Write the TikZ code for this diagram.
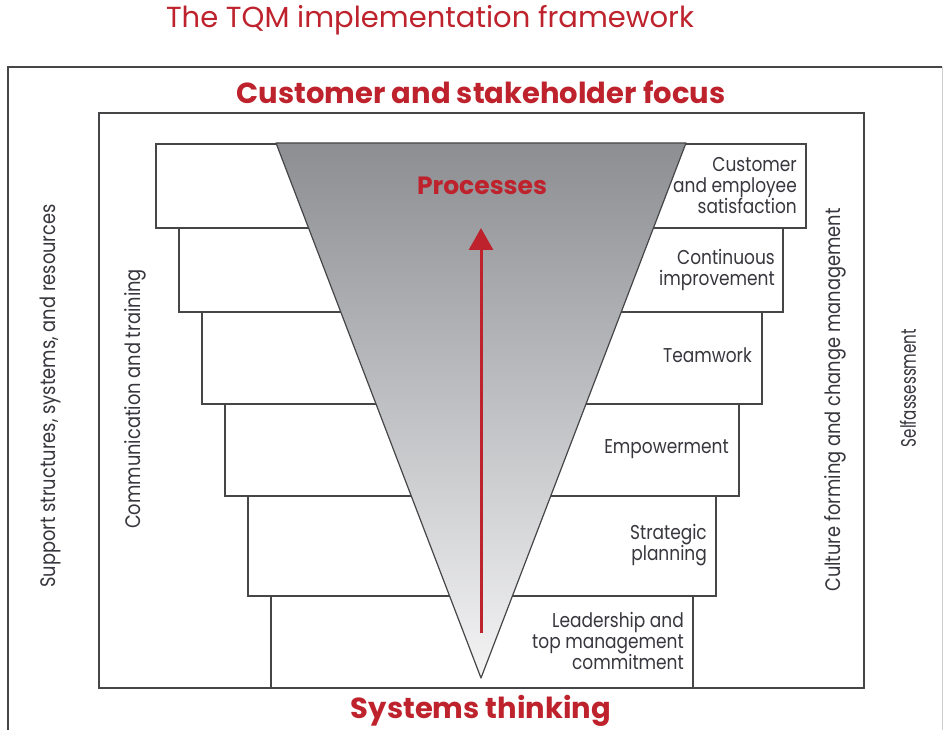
\documentclass[tikz,border=0pt]{standalone}
\usepackage{fontspec}
\usetikzlibrary{arrows.meta}
\setmainfont{Poppins}
\newfontfamily\headfont{Poppins}
\newfontfamily\condfont[FakeStretch=0.85]{Poppins}
\newfontfamily\narrowfont[FakeStretch=0.72]{Poppins}
\definecolor{tqmred}{RGB}{190,35,45}
\definecolor{linegray}{RGB}{70,70,72}
\definecolor{labelgray}{RGB}{55,55,62}
\definecolor{shadetop}{RGB}{140,142,146}
\definecolor{shadebot}{RGB}{244,244,245}

\tikzset{
  frame/.style={draw=linegray, line width=1.4pt},
  stepbox/.style={draw=linegray, line width=1.4pt, fill=white},
  steplabel/.style={anchor=east, align=right, text=labelgray,
    font=\condfont\fontsize{20}{21}\selectfont, inner sep=0pt},
  sidelabel/.style={rotate=90, text=labelgray,
    font=\condfont\fontsize{21}{24}\selectfont, inner sep=0pt},
  heading/.style={text=tqmred, font=\headfont\bfseries\fontsize{29}{32}\selectfont, inner sep=0pt},
  flow/.style={draw=tqmred, line width=3pt,
    -{Triangle[width=24pt,length=22pt]}}
}

\begin{document}
\begin{tikzpicture}[x=1pt,y=-1pt]
\useasboundingbox (0,0) rectangle (951,730);
\fill[white] (0,0) rectangle (951,730);

% outer frame (open at the bottom) and inner frame
\draw[frame] (8,740) -- (8,67) -- (942,67);
\draw[draw=black!20, line width=1pt] (942,67) -- (942,740);
\draw[frame] (99,113) rectangle (864,688);

% the six stacked steps
\foreach \l/\t/\r/\b in {156/144/806/228, 179/228/783/312, 202/312/762/404,
                        225/404/739/496, 248/496/716/596, 271/596/693/688}
  \draw[stepbox] (\l,\t) rectangle (\r,\b);

% inverted triangle of processes
\coordinate (tl) at (276,143);
\coordinate (tr) at (686,143);
\coordinate (apex) at (481,678);
\shade[top color=shadetop, bottom color=shadebot] (tl) -- (tr) -- (apex) -- cycle;
\draw[draw=linegray, line width=1.2pt, line join=round] (tl) -- (tr) -- (apex) -- cycle;

% upward arrow
\coordinate (flowstart) at (481,633);
\coordinate (flowend) at (481,228);
\draw[flow] (flowstart) -- (flowend);

% headings
\node[heading, font=\headfont\fontsize{29}{32}\selectfont] (title) at (430,20) {The TQM implementation framework};
\node[heading] (customer) at (481,92) {Customer and stakeholder focus};
\node[heading, font=\headfont\bfseries\fontsize{25}{28}\selectfont] (processes) at (482,186) {Processes};
\node[heading] (systems) at (481,711) {Systems thinking};

% step labels
\node[steplabel] (s1) at (797,186) {Customer\\and employee\\satisfaction};
\node[steplabel] (s2) at (775,270) {Continuous\\improvement};
\node[steplabel] (s3) at (752,355) {Teamwork};
\node[steplabel] (s4) at (729,449) {Empowerment};
\node[steplabel] (s5) at (707,545) {Strategic\\planning};
\node[steplabel] (s6) at (684,641) {Leadership and\\top management\\commitment};

% side labels
\node[sidelabel] (support) at (50,396) {Support structures, systems, and resources};
\node[sidelabel] (comm) at (135,399) {Communication and training};
\node[sidelabel] (culture) at (835,400) {Culture forming and change management};
\node[sidelabel, font=\narrowfont\fontsize{21}{24}\selectfont] (self) at (908,388) {Selfassessment};
\end{tikzpicture}
\end{document}
